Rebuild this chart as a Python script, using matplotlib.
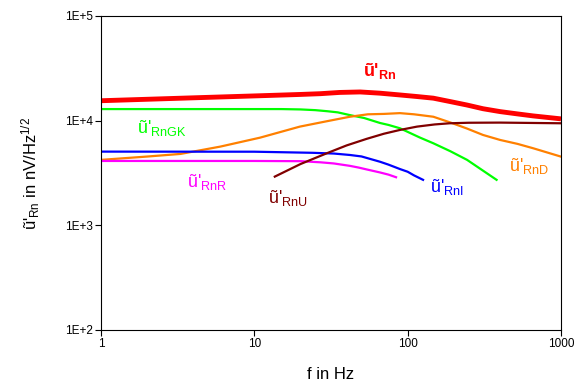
import matplotlib
matplotlib.use("Agg")
import matplotlib.pyplot as plt
from matplotlib.ticker import FixedLocator, NullLocator


plt.rcParams["font.family"] = ["Liberation Sans", "DejaVu Sans"]
plt.rcParams["mathtext.fontset"] = "custom"
plt.rcParams["mathtext.rm"] = "Liberation Sans"
plt.rcParams["mathtext.bf"] = "Liberation Sans:bold"
plt.rcParams["mathtext.default"] = "regular"

# values (f in Hz, noise in nV/Hz^1/2)
f_rn = [1, 4.4, 10.9, 20, 27, 36, 49, 66, 89, 115, 147, 190, 244, 310, 401, 520, 658, 1000]
u_rn = [15500, 16600, 17300, 17800, 18100, 18600, 18800, 18300, 17600, 17000,
        16400, 15200, 14100, 13000, 12200, 11600, 11100, 10400]

f_gk = [1, 5, 10, 15, 20, 25, 30, 35, 42, 52, 66, 75, 89, 120, 147, 190, 244, 380]
u_gk = [12900, 12900, 12900, 12900, 12800, 12600, 12300, 12000, 11300, 10600,
        9500, 9100, 8460, 6900, 6080, 5100, 4220, 2720]

f_d = [1, 2, 3.3, 6, 10.9, 19.8, 30, 42, 55, 70, 89, 110, 147, 190, 244, 310, 401, 520, 658, 1000]
u_d = [4220, 4540, 4810, 5650, 6880, 8770, 9900, 10900, 11500, 11600, 11800, 11500,
       10900, 9600, 8400, 7300, 6540, 6000, 5450, 4530]

f_i = [1, 10, 24, 33, 42, 50, 66, 75, 89, 100, 110, 126]
u_i = [5060, 5050, 4930, 4850, 4700, 4550, 4050, 3800, 3450, 3250, 3000, 2720]

f_r = [1, 10, 20, 27, 33, 42, 48, 54, 66, 75, 84]
u_r = [4120, 4120, 4100, 4000, 3900, 3700, 3560, 3420, 3200, 3050, 2880]

f_u = [13.6, 20, 30, 40, 54, 70, 89, 115, 150, 188, 250, 400, 1000]
u_u = [2920, 3850, 4910, 5800, 6700, 7500, 8150, 8770, 9200, 9440, 9550, 9580, 9440]

y_ticks = [1e2, 1e3, 1e4, 1e5]
y_tick_labels = ["1E+2", "1E+3", "1E+4", "1E+5"]
x_ticks = [1, 10, 100, 1000]
x_tick_labels = ["1", "10", "100", "1000"]

fig = plt.figure(figsize=(5.81, 3.87), dpi=100)
ax = fig.add_axes([0.1738, 0.1473, 0.7918, 0.8114])

ax.plot(f_gk, u_gk, color="#00ff00", lw=1.6)
ax.plot(f_d, u_d, color="#ff8000", lw=1.6)
ax.plot(f_i, u_i, color="#0000ff", lw=1.6)
ax.plot(f_r, u_r, color="#ff00ff", lw=1.6)
ax.plot(f_u, u_u, color="#800000", lw=1.6)
ax.plot(f_rn, u_rn, color="#ff0000", lw=3.5, solid_capstyle="butt")

ax.set_xscale("log")
ax.set_yscale("log")
ax.set_xlim(1, 1000)
ax.set_ylim(1e2, 1e5)
ax.xaxis.set_major_locator(FixedLocator(x_ticks))
ax.yaxis.set_major_locator(FixedLocator(y_ticks))
ax.xaxis.set_minor_locator(NullLocator())
ax.yaxis.set_minor_locator(NullLocator())
ax.set_xticklabels(x_tick_labels)
ax.set_yticklabels(y_tick_labels)
ax.tick_params(direction="out", length=4, width=0.8, labelsize=8.5, pad=2)
for spine in ax.spines.values():
    spine.set_linewidth(0.8)

ax.set_xlabel("f in Hz", fontsize=12, labelpad=12)
ax.set_ylabel(r"ũ'$_{Rn}$ in nV/Hz$^{1/2}$", fontsize=12, labelpad=16)

# curve labels
ax.text(51, 26700, r"ũ'$_{\mathbf{Rn}}$", color="#ff0000", fontsize=13, fontweight="bold")
ax.text(1.72, 7620, r"ũ'$_{RnGK}$", color="#00ff00", fontsize=13)
ax.text(3.64, 2340, r"ũ'$_{RnR}$", color="#ff00ff", fontsize=13)
ax.text(12.3, 1630, r"ũ'$_{RnU}$", color="#800000", fontsize=13)
ax.text(140, 2070, r"ũ'$_{RnI}$", color="#0000ff", fontsize=13)
ax.text(458, 3330, r"ũ'$_{RnD}$", color="#ff8000", fontsize=13)

fig.savefig("out.png", dpi=100)
